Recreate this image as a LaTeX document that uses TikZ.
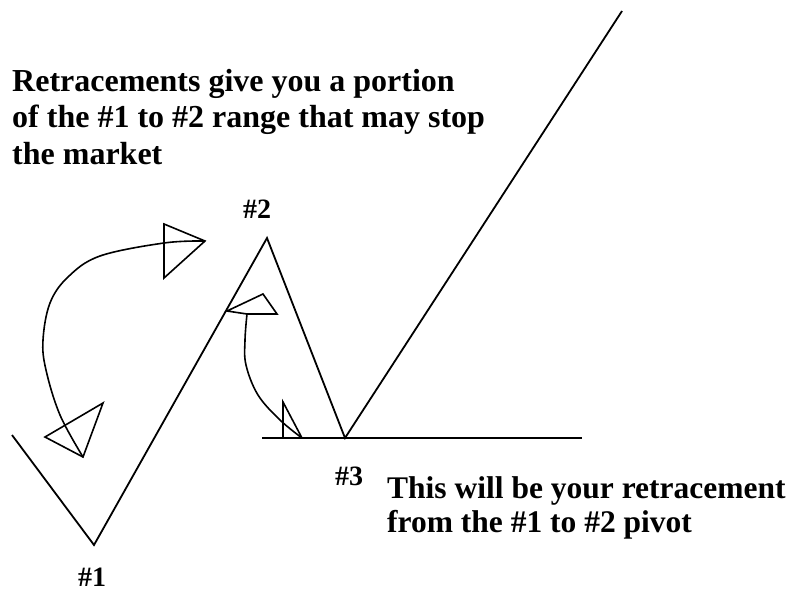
\documentclass[tikz,border=0pt]{standalone}
\usepackage{fontspec}
\setmainfont{Liberation Serif}
\begin{document}
\begin{tikzpicture}[x=1pt,y=-1pt,
  chart/.style={line width=1.8pt,black},
  base/.style={line width=2.8pt,black},
  arr/.style={line width=1.6pt,black,line join=miter},
  bigtext/.style={font=\bfseries\fontsize{32}{36.5}\selectfont,anchor=base west,inner sep=0pt,align=left},
  lowtext/.style={font=\bfseries\fontsize{31.5}{34}\selectfont,anchor=base west,inner sep=0pt,align=left},
  pivot/.style={font=\bfseries\fontsize{28}{30}\selectfont,inner sep=0pt}]
\useasboundingbox (0,0) rectangle (795,595);
% price path
\coordinate (s) at (12,435);
\coordinate (p1) at (94,545);
\coordinate (p2) at (267,238);
\coordinate (p3) at (345,438);
\coordinate (e) at (622,11);
\draw[chart] (s) -- (p1) -- (p2) -- (p3) -- (e);
\coordinate (hl) at (262,438);
\coordinate (hr) at (582,438);
\draw[base] (hl) -- (hr);
% big curved arrow
\draw[arr] plot[smooth,tension=0.6] coordinates {(83,457) (60,415) (46,370) (43,340) (50,303) (68,277) (100,256) (164,243) (205,241)};
\draw[arr] (45,437) -- (103,403) -- (83,457) -- cycle;
\draw[arr] (164,224) -- (164,278) -- (205,241) -- cycle;
% small curved arrow
\draw[arr] plot[smooth,tension=0.6] coordinates {(302,438) (280,420) (258,395) (246,365) (245,340) (247,314)};
\draw[arr] (283,402) -- (283,438) -- (302,438) -- cycle;
\draw[arr] (227,311) -- (263,294) -- (277,314) -- (247,314) -- cycle;
% labels
\node[pivot] (l1) at (92,577) {\#1};
\node[pivot] (l2) at (257,209) {\#2};
\node[pivot] (l3) at (349,476) {\#3};
\node[bigtext] (t1) at (12,164) {Retracements give you a portion\\of the \#1 to \#2 range that may stop\\the market};
\node[lowtext] (t2) at (387,532) {This will be your retracement\\from the \#1 to \#2 pivot};
\end{tikzpicture}
\end{document}
